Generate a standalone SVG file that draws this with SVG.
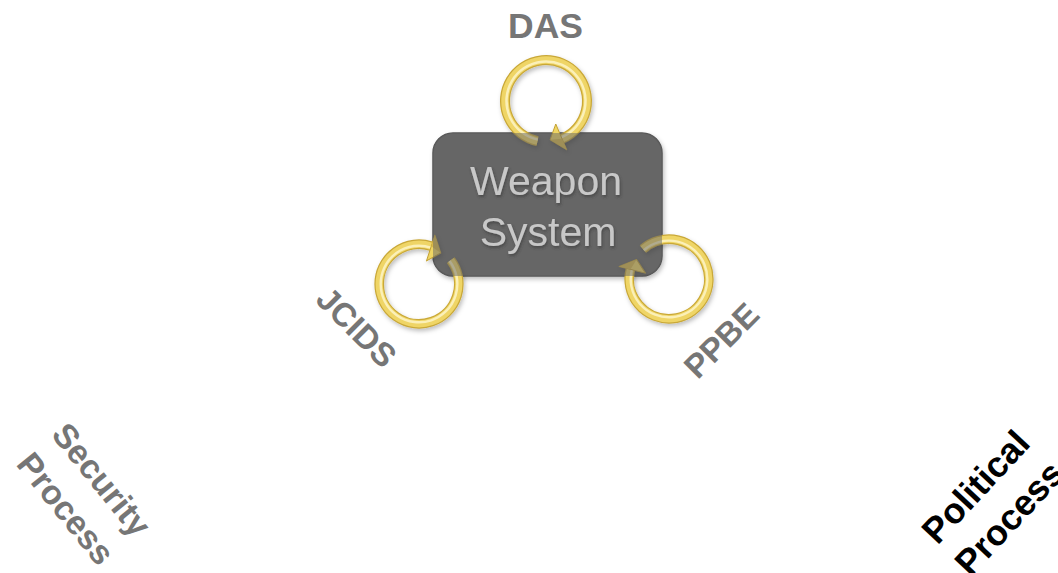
<svg xmlns="http://www.w3.org/2000/svg" xmlns:xlink="http://www.w3.org/1999/xlink" width="1058" height="573" viewBox="0 0 1058 573">
<style>
.lbl{font-family:"Liberation Sans",Arial,sans-serif;font-weight:bold;fill:#767676;text-anchor:middle}
.blk{fill:#000}
.ws{font-family:"Liberation Sans",Arial,sans-serif;font-size:41px;fill:#c8c8c8;text-anchor:middle}
</style>
<defs>
<filter id="sh" x="-20%" y="-20%" width="140%" height="140%">
<feDropShadow dx="1.5" dy="2.5" stdDeviation="2" flood-color="#000" flood-opacity="0.25"/>
</filter>
<filter id="tsh" x="-10%" y="-10%" width="120%" height="130%">
<feDropShadow dx="1" dy="2" stdDeviation="1.5" flood-color="#333" flood-opacity="0.6"/>
</filter>
<g id="ring">
<path d="M -8.52 40.10 A 41 41 0 1 1 16.02 37.74" fill="none" stroke="#c9a838" stroke-width="10"/>
<path d="M -8.52 40.10 A 41 41 0 1 1 16.02 37.74" fill="none" stroke="#efd566" stroke-width="7.5"/>
<path d="M -8.21 38.64 A 39.5 39.5 0 1 1 15.43 36.36" fill="none" stroke="#fbf0b8" stroke-width="2.5"/>
<polygon points="9.77,23.01 20.71,48.79 4.08,38.79" fill="#f0d664" stroke="#c2a032" stroke-width="1" stroke-linejoin="round"/>
<polygon points="16.02,37.74 20.71,48.79 4.08,38.79" fill="#d8b848"/>
</g>
</defs>

<g id="weapon-system-box">
<rect x="433" y="133" width="229" height="143" rx="20" ry="20" fill="#666" stroke="#545454" stroke-width="1.5" filter="url(#sh)"/>
</g>

<g id="connectors">
<g id="loop-das" filter="url(#sh)"><use xlink:href="#ring" transform="translate(546,101)"/></g>
<g id="loop-jcids" filter="url(#sh)"><use xlink:href="#ring" transform="translate(419,284) rotate(221) scale(0.97)"/></g>
<g id="loop-ppbe" filter="url(#sh)"><use xlink:href="#ring" transform="translate(669,279) rotate(127) scale(0.97)"/></g>
</g>

<g id="weapon-system">
<rect x="433" y="133" width="229" height="143" rx="20" ry="20" fill="#666" fill-opacity="0.5"/>
<g filter="url(#tsh)">
<text class="ws" x="546" y="195">Weapon</text>
<text class="ws" x="548" y="246">System</text>
</g>
</g>

<g id="das"><text class="lbl" x="545.5" y="38" font-size="35.5">DAS</text></g>
<g id="jcids" transform="translate(357,327) rotate(45)"><text class="lbl" x="0" y="12" font-size="33">JCIDS</text></g>
<g id="ppbe" transform="translate(721,340) rotate(-45)"><text class="lbl" x="0" y="12" font-size="33">PPBE</text></g>
<g id="security-process" transform="translate(84,494) rotate(51)">
<text class="lbl" x="0" y="-11" font-size="34">Security</text>
<text class="lbl" x="0" y="35" font-size="34">Process</text>
</g>
<g id="political-process" transform="translate(992,502) rotate(-47)">
<text class="lbl blk" x="0" y="-10" font-size="36">Political</text>
<text class="lbl blk" x="0" y="36" font-size="36">Process</text>
</g>
</svg>
